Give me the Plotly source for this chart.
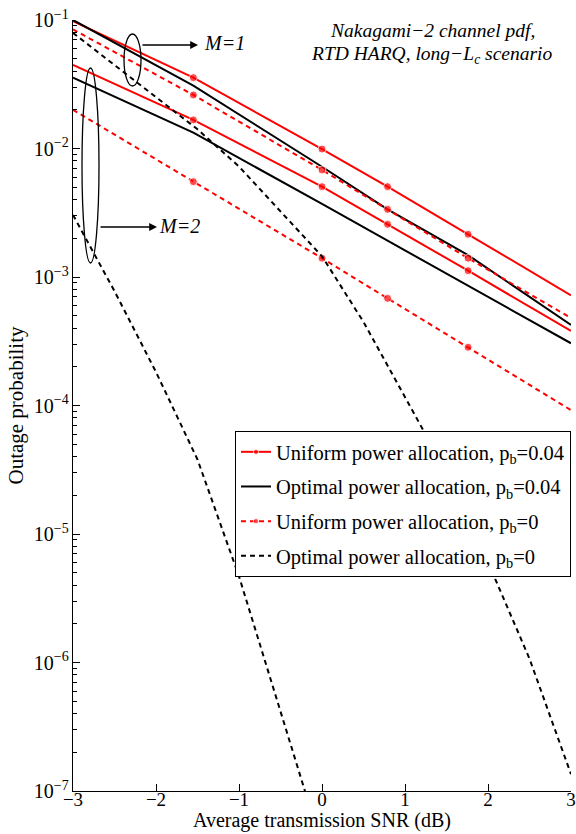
import plotly.graph_objects as go

# ---------------- data ----------------
snr_db = [-3, -1.55, 0, 0.79, 1.76, 3]          # uniform / optimal (p_b=0.04) grid
marker_flags = [0, 1, 1, 1, 1, 0]               # markers drawn at inner points only

uni_pb004_M1 = [0.098, 0.0356, 0.0099, 0.00505, 0.00215, 0.00072]
uni_pb004_M2 = [0.0447, 0.0167, 0.00505, 0.00257, 0.00112, 0.00038]
opt_pb004_M1 = [0.100, 0.0309, 0.00721, 0.00336, 0.00148, 0.000423]
opt_pb004_M2 = [0.0356, 0.0133, 0.0037, 0.00191, 0.00085, 0.000305]
uni_pb0_M1 = [0.0845, 0.0261, 0.00681, 0.00336, 0.0014, 0.00048]
uni_pb0_M2 = [0.020, 0.00552, 0.0014, 0.000682, 0.000284, 9.2e-5]

snr_opt0_M1 = [-3, -2.5, -2, -1.5, -1, -0.5, 0, 0.5, 1, 1.5, 2, 2.5, 3]
opt_pb0_M1 = [0.0794, 0.0447, 0.0251, 0.0141, 0.00724, 0.00324, 0.00145,
              0.000447, 0.000117, 3.02e-5, 6.03e-6, 1.07e-6, 1.35e-7]
snr_opt0_M2 = [-3, -2.5, -2, -1.5, -1, -0.5, -0.1]
opt_pb0_M2 = [0.00304, 0.000776, 0.000182, 3.8e-5, 4.68e-6, 4.17e-7, 6.0e-8]

legend_names = [
    "Uniform power allocation, p<sub>b</sub>=0.04",
    "Optimal power allocation, p<sub>b</sub>=0.04",
    "Uniform power allocation, p<sub>b</sub>=0",
    "Optimal power allocation, p<sub>b</sub>=0",
]

# ---------------- figure ----------------
RED = "#ff0000"
BLACK = "#000000"
FONT = "Liberation Serif"
DASH = "5px,4px"
MS = 8
msizes = [MS * f for f in marker_flags]

fig = go.Figure()

def add(x, y, color, dash, markers, name, show):
    fig.add_trace(go.Scatter(
        x=x, y=y,
        mode="lines+markers" if markers else "lines",
        line=dict(color=color, width=2, dash=dash),
        marker=dict(size=msizes, color=color) if markers else None,
        name=name, showlegend=show, legendgroup=name,
    ))

add(snr_db, uni_pb004_M1, RED, "solid", True, legend_names[0], True)
add(snr_db, uni_pb004_M2, RED, "solid", True, legend_names[0], False)
add(snr_db, opt_pb004_M1, BLACK, "solid", False, legend_names[1], True)
add(snr_db, opt_pb004_M2, BLACK, "solid", False, legend_names[1], False)
add(snr_db, uni_pb0_M1, RED, DASH, True, legend_names[2], True)
add(snr_db, uni_pb0_M2, RED, DASH, True, legend_names[2], False)
add(snr_opt0_M1, opt_pb0_M1, BLACK, DASH, False, legend_names[3], True)
add(snr_opt0_M2, opt_pb0_M2, BLACK, DASH, False, legend_names[3], False)

# plot area in pixels: x 73..571, y 20..791
L, R, T, B = 73, 5, 20, 43
W, H = 576, 834
PW, PH = W - L - R, H - T - B

def px(xp):
    return (xp - L) / PW

def py(yp):
    return 1 - (yp - T) / PH

shapes = [
    dict(type="circle", xref="paper", yref="paper",
         x0=px(124), x1=px(141), y0=py(86), y1=py(34),
         line=dict(color=BLACK, width=1.3)),
    dict(type="circle", xref="paper", yref="paper",
         x0=px(82), x1=px(99), y0=py(263), y1=py(68),
         line=dict(color=BLACK, width=1.3)),
]

annotations = [
    dict(x=px(198), y=py(45), xref="paper", yref="paper", text="",
         showarrow=True, ax=-57, ay=0, arrowhead=2, arrowsize=1.2,
         arrowwidth=1.3, arrowcolor=BLACK),
    dict(x=px(157), y=py(227), xref="paper", yref="paper", text="",
         showarrow=True, ax=-58, ay=0, arrowhead=2, arrowsize=1.2,
         arrowwidth=1.3, arrowcolor=BLACK),
    dict(x=px(202), y=py(43), xref="paper", yref="paper", text="<i>M=1</i>",
         showarrow=False, xanchor="left", yanchor="middle",
         font=dict(family=FONT, size=20, color=BLACK)),
    dict(x=px(157), y=py(226), xref="paper", yref="paper", text="<i>M=2</i>",
         showarrow=False, xanchor="left", yanchor="middle",
         font=dict(family=FONT, size=20, color=BLACK)),
    dict(x=px(432), y=py(31), xref="paper", yref="paper",
         text="<i>Nakagami−2 channel pdf,</i>",
         showarrow=False, xanchor="center", yanchor="middle",
         font=dict(family=FONT, size=19.5, color=BLACK)),
    dict(x=px(431), y=py(55), xref="paper", yref="paper",
         text="<i>RTD HARQ, long−L<sub>c</sub> scenario</i>",
         showarrow=False, xanchor="center", yanchor="middle",
         font=dict(family=FONT, size=19.5, color=BLACK)),
    # x-axis title
    dict(x=0.5, y=0, xref="paper", yref="paper", yshift=-43,
         text="Average transmission SNR (dB)",
         showarrow=False, xanchor="center", yanchor="bottom",
         font=dict(family=FONT, size=20, color=BLACK)),
]

fig.update_layout(
    width=W, height=H,
    margin=dict(l=L, r=R, t=T, b=B, pad=0),
    paper_bgcolor="white", plot_bgcolor="white",
    font=dict(family=FONT, size=20, color=BLACK),
    shapes=shapes, annotations=annotations,
    legend=dict(x=1, xanchor="right", y=py(431), yanchor="top",
                bgcolor="white", bordercolor=BLACK, borderwidth=1,
                font=dict(family=FONT, size=20.5, color=BLACK),
                tracegroupgap=5, itemwidth=30),
    xaxis=dict(
        range=[-3, 3], dtick=1, tick0=-3,
        showline=True, linecolor=BLACK, linewidth=1.3, mirror=False,
        ticks="inside", ticklen=7, tickcolor=BLACK, tickwidth=1,
        showgrid=False, zeroline=False,
        tickfont=dict(family=FONT, size=19, color=BLACK),
        ticklabelstandoff=-9,
        automargin=False,
    ),
    yaxis=dict(
        type="log", range=[-7, -1], dtick=1, exponentformat="power",
        showline=True, linecolor=BLACK, linewidth=1.3, mirror=False,
        ticks="inside", ticklen=7, tickcolor=BLACK, tickwidth=1,
        minor=dict(ticks="inside", ticklen=4, dtick="D1", tickcolor=BLACK,
                   tickwidth=1, showgrid=False),
        showgrid=False, zeroline=False,
        tickfont=dict(family=FONT, size=16, color=BLACK),
        title=dict(text="Outage probability", standoff=4,
                   font=dict(family=FONT, size=21, color=BLACK)),
        automargin=False,
    ),
)

fig.write_html("out.html")
